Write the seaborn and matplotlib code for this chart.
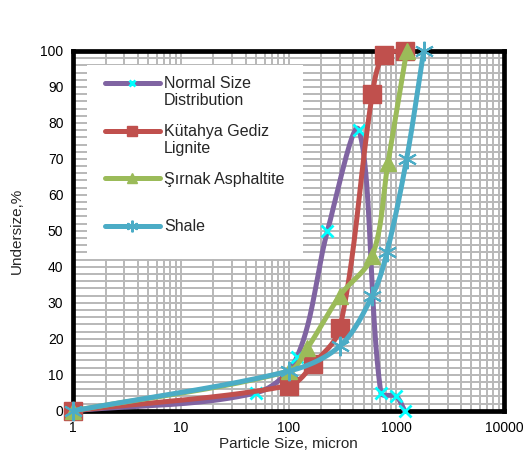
import numpy as np
import matplotlib
matplotlib.use("Agg")
import matplotlib.pyplot as plt
import seaborn as sns
from matplotlib.lines import Line2D
from matplotlib.patches import Rectangle
from matplotlib.legend_handler import HandlerLine2D
from matplotlib.ticker import FixedLocator, LogLocator, NullFormatter

# data (particle size in micron, undersize %)
normal_x = [1, 50, 120, 230, 450, 720, 1000, 1200]
normal_y = [0, 5, 15, 50, 78, 5, 4, 0]
lignite_x = [1, 100, 170, 300, 600, 770, 1200]
lignite_y = [0, 7, 13, 23, 88, 99, 100]
asphaltite_x = [1, 100, 150, 300, 600, 840, 1250]
asphaltite_y = [0, 11, 17.5, 32, 43, 69, 100]
shale_x = [1, 100, 300, 600, 820, 1250, 1800]
shale_y = [0, 11, 18, 32, 44, 70, 100]

labels = ["Normal Size\nDistribution", "Kütahya Gediz\nLignite", "Şırnak Asphaltite\n", "Shale\n"]
x_ticks = [1, 10, 100, 1000, 10000]
y_ticks = list(range(0, 101, 10))

sns.set_style("white")
plt.rcParams['font.family'] = ['Liberation Sans', 'DejaVu Sans']

AX_W, AX_H = 431, 360


def smooth(xs, ys, n=60):
    # excel-like smoothed line (chord weighted bezier) in log-x screen space
    u = np.log10(xs) / 4 * AX_W
    v = np.array(ys, dtype=float) / 100 * AX_H
    P = np.column_stack([u, v])
    P = np.vstack([P[0], P, P[-1]])
    out = []
    t = np.linspace(0, 1, n)[:, None]
    for i in range(1, len(P) - 2):
        p0, p1, p2, p3 = P[i - 1], P[i], P[i + 1], P[i + 2]
        d01 = np.linalg.norm(p1 - p0)
        d12 = np.linalg.norm(p2 - p1)
        d23 = np.linalg.norm(p3 - p2)
        f1 = d12 / (3 * (d01 + d12)) if d01 + d12 > 0 else 0
        f2 = d12 / (3 * (d12 + d23)) if d12 + d23 > 0 else 0
        c1 = p1 + (p2 - p0) * f1
        c2 = p2 - (p3 - p1) * f2
        seg = ((1 - t) ** 3) * p1 + 3 * ((1 - t) ** 2) * t * c1 + 3 * (1 - t) * t ** 2 * c2 + t ** 3 * p2
        out.append(seg)
    out = np.vstack(out)
    return 10 ** (out[:, 0] / AX_W * 4), out[:, 1] / AX_H * 100


class TopLineHandler(HandlerLine2D):
    # put the legend line level with the first text line
    def create_artists(self, legend, orig_handle, xdescent, ydescent,
                       width, height, fontsize, trans):
        arts = super().create_artists(legend, orig_handle, xdescent, ydescent,
                                      width, height, fontsize, trans)
        for a in arts:
            a.set_ydata(np.asarray(a.get_ydata(), dtype=float) + 7.0)
        return arts


fig = plt.figure(figsize=(5.26, 4.59), dpi=100)
ax = fig.add_axes([0.139, 0.105, 0.819, 0.784])

series = [
    (normal_x, normal_y, '#8064a2', 'x', 8, '#00ffff', 2.0),
    (lignite_x, lignite_y, '#c0504d', 's', 13, '#c0504d', 1.0),
    (asphaltite_x, asphaltite_y, '#9bbb59', '^', 12, '#9bbb59', 1.0),
    (shale_x, shale_y, '#4bacc6', (6, 2, 0), 14, '#4bacc6', 1.5),
]

handles = []
for i, (xs, ys, col, mk, ms, mcol, mew) in enumerate(series):
    sx, sy = smooth(xs, ys)
    sns.lineplot(x=sx, y=sy, sort=False, estimator=None, color=col,
                 linewidth=3.6, ax=ax, zorder=3 + i, clip_on=False)
    ax.plot(xs, ys, linestyle='none', marker=mk, markersize=ms,
            color=mcol, markeredgecolor=mcol, markeredgewidth=mew,
            zorder=3 + i, clip_on=False)
    handles.append(Line2D([], [], color=col, linewidth=3.6, marker=mk,
                          markersize=ms * 0.6, markerfacecolor=mcol,
                          markeredgecolor=mcol, markeredgewidth=mew))

ax.set_xscale('log')
ax.set_xlim(1, 10000)
ax.set_ylim(0, 100)
ax.xaxis.set_major_locator(FixedLocator(x_ticks))
ax.set_xticklabels([str(t) for t in x_ticks])
ax.xaxis.set_minor_locator(LogLocator(base=10, subs=np.arange(2, 10)))
ax.xaxis.set_minor_formatter(NullFormatter())
ax.set_yticks(y_ticks)
ax.yaxis.set_minor_locator(FixedLocator(np.arange(0, 101, 2)))
ax.grid(True, which='both', color='#b8b8b8', linewidth=1.4)
ax.set_axisbelow(True)
ax.tick_params(which='both', length=0, labelsize=10, pad=7, colors='black')

for s in ax.spines.values():
    s.set_color('black')
    s.set_linewidth(3.4)
    s.set_zorder(2.5)

ax.set_xlabel('Particle Size, micron', fontsize=11, labelpad=2)
ax.set_ylabel('Undersize,%', fontsize=11, labelpad=12)

# white legend background like the excel legend box
ax.add_patch(Rectangle((0.0325, 0.422), 0.5015, 0.539, transform=ax.transAxes,
                       facecolor='white', edgecolor='none', zorder=1.5))

leg = ax.legend(handles=handles, labels=labels, loc='upper left',
                bbox_to_anchor=(0.074, 0.931), frameon=False, fontsize=11.5,
                handlelength=3.44, handletextpad=0.26, labelspacing=0.97,
                borderpad=0, borderaxespad=0,
                handler_map={Line2D: TopLineHandler()})
leg.set_zorder(2)

fig.savefig('out.png', dpi=100)
